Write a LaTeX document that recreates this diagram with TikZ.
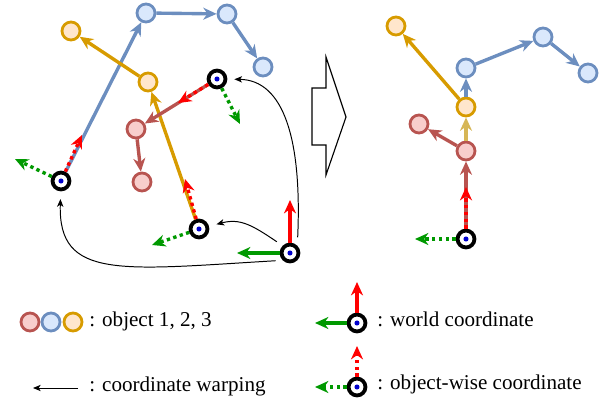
\documentclass[tikz,border=0pt]{standalone}
\usepackage{fontspec}
\setmainfont{Liberation Serif}
\usetikzlibrary{arrows.meta}

\definecolor{redline}{HTML}{B85450}
\definecolor{redfill}{HTML}{F8CECC}
\definecolor{blueline}{HTML}{6C8EBF}
\definecolor{bluefill}{HTML}{DAE8FC}
\definecolor{orangeline}{HTML}{D79B00}
\definecolor{orangefill}{HTML}{FFE6CC}
\definecolor{tanline}{HTML}{D6B656}
\definecolor{axisred}{HTML}{FF0000}
\definecolor{axisgreen}{HTML}{009900}
\definecolor{dotblue}{HTML}{0000CC}

\begin{document}
\begin{tikzpicture}[x=0.025cm, y=-0.025cm,
        obj/.style={circle, line width=2pt, minimum size=12.8pt, inner sep=0pt},
        robj/.style={obj, draw=redline, fill=redfill},
        bobj/.style={obj, draw=blueline, fill=bluefill},
        oobj/.style={obj, draw=orangeline, fill=orangefill},
        frame/.style={circle, draw=black, line width=2.7pt, fill=white, minimum size=12pt, inner sep=0pt,
                      path picture={\fill[dotblue] (path picture bounding box.center) circle (1.8pt);}},
        link/.style={-{Stealth[length=9.5pt, width=8.5pt, inset=3pt]}, line width=2.4pt},
        yaxis/.style={link, color=axisred},
        xaxis/.style={link, color=axisgreen},
        dots/.style={dash pattern=on 2.4pt off 2.4pt},
        warp/.style={-{Stealth[length=5.5pt, width=4.5pt, inset=1.5pt]}, line width=0.7pt},
        lbl/.style={anchor=base west, inner sep=0pt, font=\fontsize{15}{18}\selectfont}
    ]
    \useasboundingbox (0,0) rectangle (604,400);

    % objects before warping
    \node[bobj] (b1) at (146,13)  {};
    \node[bobj] (b2) at (227,14)  {};
    \node[bobj] (b3) at (263,67)  {};
    \node[oobj] (o1) at (71,31)   {};
    \node[oobj] (o2) at (148,82)  {};
    \node[robj] (r1) at (136,129) {};
    \node[robj] (r2) at (142,182) {};

    \node[frame] (f1) at (61,181)  {};
    \node[frame] (f2) at (217,79)  {};
    \node[frame] (f3) at (199,229) {};
    \node[frame] (w)  at (290,253) {};

    \coordinate (f1y) at (82,135);
    \coordinate (f1x) at (15,159);
    \coordinate (f2y) at (178,103);
    \coordinate (f2x) at (240,124);
    \coordinate (f3y) at (185,179);
    \coordinate (f3x) at (152,245);
    \coordinate (wy)  at (290,200);
    \coordinate (wx)  at (237,253);

    \draw[link, blueline]   (f1) -- (b1);
    \draw[link, blueline]   (b1) -- (b2);
    \draw[link, blueline]   (b2) -- (b3);
    \draw[link, orangeline] (f3) -- (o2);
    \draw[link, orangeline] (o2) -- (o1);
    \draw[link, redline]    (f2) -- (r1);
    \draw[link, redline]    (r1) -- (r2);

    \draw[yaxis, dots] (f1) -- (f1y);
    \draw[xaxis, dots] (f1) -- (f1x);
    \draw[yaxis, dots] (f2) -- (f2y);
    \draw[xaxis, dots] (f2) -- (f2x);
    \draw[yaxis, dots] (f3) -- (f3y);
    \draw[xaxis, dots] (f3) -- (f3x);
    \draw[yaxis] (w) -- (wy);
    \draw[xaxis] (w) -- (wx);

    \draw[warp, shorten <=5pt, shorten >=5.5pt] (w.south west) .. controls (120,270) and (58,280) .. (f1);
    \draw[warp, shorten <=6pt, shorten >=5pt] (w.north east) .. controls (302,140) and (284,80) .. (f2);
    \draw[warp, shorten <=5pt, shorten >=5.5pt] (w.north west) .. controls (252,225) and (240,218) .. (f3);

    % hollow arrow
    \draw[line width=0.8pt] (312,88) -- (326,88) -- (326,57) -- (346,117) -- (326,175)
        -- (326,145) -- (312,145) -- cycle;

    % objects after warping
    \node[frame] (g)  at (466,239) {};
    \node[robj] (R1) at (466,151) {};
    \node[robj] (R2) at (419,124) {};
    \node[oobj] (O2) at (466,107) {};
    \node[oobj] (O1) at (396,26)  {};
    \node[bobj] (B1) at (466,68)  {};
    \node[bobj] (B2) at (543,37)  {};
    \node[bobj] (B3) at (588,73)  {};

    \coordinate (gy) at (466,187);
    \coordinate (gx) at (415,239);

    \draw[link, redline]    (g)  -- (R1);
    \draw[link, redline]    (R1) -- (R2);
    \draw[link, tanline]    (R1) -- (O2);
    \draw[link, orangeline] (O2) -- (O1);
    \draw[link, blueline]   (O2) -- (B1);
    \draw[link, blueline]   (B1) -- (B2);
    \draw[link, blueline]   (B2) -- (B3);
    \draw[yaxis, dots] (g) -- (gy);
    \draw[xaxis, dots] (g) -- (gx);

    % legend
    \node[robj] (lr) at (30,322) {};
    \node[bobj] (lb) at (51,322) {};
    \node[oobj] (lo) at (73,322) {};
    \node[lbl] (tobj) at (89,326) {: object 1, 2, 3};

    \coordinate (lws) at (78,388);
    \coordinate (lwe) at (33,388);
    \draw[warp] (lws) -- (lwe);
    \node[lbl] (twarp) at (89,391) {: coordinate warping};

    \node[frame] (lw) at (357,323) {};
    \coordinate (lwy) at (357,282);
    \coordinate (lwx) at (315,323);
    \draw[yaxis] (lw) -- (lwy);
    \draw[xaxis] (lw) -- (lwx);
    \node[lbl] (tworld) at (377,326) {: world coordinate};

    \node[frame] (lf) at (357,387) {};
    \coordinate (lfy) at (357,346);
    \coordinate (lfx) at (315,387);
    \draw[yaxis, dots] (lf) -- (lfy);
    \draw[xaxis, dots] (lf) -- (lfx);
    \node[lbl] (tlocal) at (377,389) {: object-wise coordinate};
\end{tikzpicture}
\end{document}
